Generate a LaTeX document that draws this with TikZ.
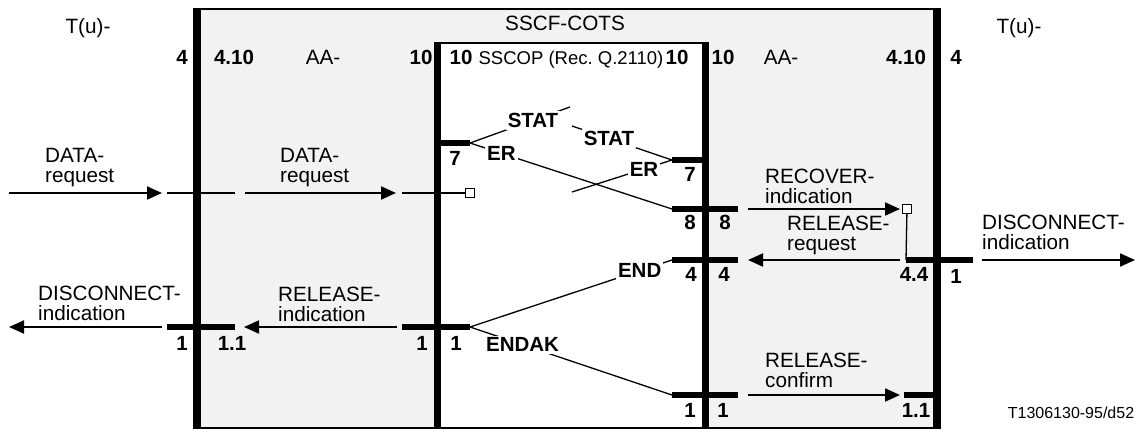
\documentclass[tikz,border=0pt]{standalone}
\usepackage{fontspec}
\setmainfont{Liberation Sans}
\usetikzlibrary{arrows.meta, positioning}

\tikzset{
  lbl/.style={font=\fontsize{20.7}{20.5}\selectfont, inner sep=0pt, align=left},
  num/.style={font=\fontsize{20.5}{20.5}\selectfont\bfseries, inner sep=0pt},
  msg/.style={font=\fontsize{20.5}{20.5}\selectfont\bfseries, inner sep=2pt, fill=white},
  obar/.style={line width=8pt},
  ibar/.style={line width=7pt},
  stub/.style={line width=6.5pt},
  prim/.style={line width=2pt, -{Triangle[length=15pt, width=13pt]}},
  sig/.style={line width=1.3pt},
  port/.style={draw, line width=1pt, fill=white, minimum size=9pt, inner sep=0pt},
}

\begin{document}
\begin{tikzpicture}[x=1pt, y=-1pt]
    \useasboundingbox (0,0) rectangle (1139,432);

    % SSCF-COTS frame and SSCOP box
    \fill[gray!10] (197,9) rectangle (937,428);
    \fill[white] (437,43) rectangle (705,428);
    \draw[line width=2pt] (197,9) -- (937,9);
    \draw[line width=2pt] (197,428) -- (937,428);
    \draw[line width=2.5pt] (437,43) -- (705,43);
    \draw[obar] (197,8) -- (197,429);
    \draw[obar] (937,8) -- (937,429);
    \draw[ibar] (437,42) -- (437,429);
    \draw[ibar] (705,42) -- (705,429);

    % Titles
    \node[lbl, anchor=base] (tuL) at (88,33) {T(u)-};
    \node[lbl, anchor=base] (tuR) at (1019,33) {T(u)-};
    \node[lbl, anchor=base] (cots) at (565,30) {SSCF-COTS};
    \node[lbl, anchor=base] (aaL) at (323,64) {AA-};
    \node[lbl, anchor=base] (aaR) at (781,64) {AA-};
    \node[lbl, anchor=base, font=\fontsize{18.5}{20}\selectfont] (sscop) at (571,64) {SSCOP (Rec.~Q.2110)};
    \node[lbl, anchor=base, font=\fontsize{16}{18}\selectfont] (fig) at (1071,418) {T1306130-95/d52};

    % Numbers along the top
    \foreach \x/\t [count=\i] in {182/4, 234/4.10, 421/10, 461/10, 677/10, 723/10, 906/4.10, 956/4}
        \node[num, anchor=base] (top\i) at (\x,64) {\t};

    % Stub ends and arrow ends
    \foreach \n/\x/\y in {p7L/470/143, p7R/672/160, p8/672/209, p4/672/260, p1R/672/395, p1L/470/327,
                          sA/570/107, sB/572/126, eB/572/192, p44/906/260,
                          d1/9/193, d2/162/193, d3/167/193, d4/235/193, d5/245/193, d6/396/193, d7/402/193,
                          r1/748/209, r2/900/209, rq1/900/260, rq2/748/260, dc1/982/260, dc2/1135/260,
                          ri1/397/327, ri2/244/327, dl1/162/327, dl2/9/327, rc1/748/395, rc2/900/395}
        \coordinate (\n) at (\x,\y);

    % SSCOP messages
    \draw[sig] (p7L) -- node[msg, pos=.63] (stat1) {STAT} (sA);
    \draw[sig] (sB) -- node[msg, pos=.37] (stat2) {STAT} (p7R);
    \draw[sig] (p7L) -- node[msg, pos=.155] (er1) {ER} (p8);
    \draw[sig] (p7R) -- node[msg, pos=.28] (er2) {ER} (eB);
    \draw[sig] (p1L) -- node[msg, pos=.84] (end) {END} (p4);
    \draw[sig] (p1L) -- node[msg, pos=.26] (endak) {ENDAK} (p1R);

    % Stubs
    \draw[stub] (437,143) -- (p7L);
    \draw[stub] (p7R) -- (705,160);
    \draw[stub] (p8) -- (738,209);
    \draw[stub] (p4) -- (738,260);
    \draw[stub] (p1R) -- (738,395);
    \draw[stub] (402,327) -- (p1L);
    \draw[stub] (167,327) -- (235,327);
    \draw[stub] (p44) -- (973,260);
    \draw[stub] (904,395) -- (937,395);

    % Primitives
    \node[port] (q1) at (470,193) {};
    \node[port] (q2) at (907,209) {};
    \draw[prim] (d1) -- (d2);
    \draw[prim, -] (d3) -- (d4);
    \draw[prim] (d5) -- (d6);
    \draw[prim, -] (d7) -- (q1);
    \draw[prim] (r1) -- (r2);
    \draw[sig] (q2) -- (p44);
    \draw[prim] (rq1) -- (rq2);
    \draw[prim] (dc1) -- (dc2);
    \draw[prim] (ri1) -- (ri2);
    \draw[prim] (dl1) -- (dl2);
    \draw[prim] (rc1) -- (rc2);

    % Primitive labels
    \node[lbl, anchor=south west] (dataL) at (45,187) {DATA-\\request};
    \node[lbl, anchor=south west] (dataM) at (280,187) {DATA-\\request};
    \node[lbl, anchor=south west] (recov) at (765,204) {RECOVER-\\indication};
    \node[lbl, anchor=south west] (relrq) at (787,255) {RELEASE-\\request};
    \node[lbl, anchor=south west] (discR) at (982,250) {DISCONNECT-\\indication};
    \node[lbl, anchor=south west] (relin) at (278,322) {RELEASE-\\indication};
    \node[lbl, anchor=south west] (discL) at (38,321) {DISCONNECT-\\indication};
    \node[lbl, anchor=south west] (relcf) at (765,388) {RELEASE-\\confirm};

    % Numbers at the stubs
    \foreach \x/\y/\t [count=\i] in {455/158/7, 690/174/7, 690/222/8, 725/222/8, 691/274/4, 724/274/4,
                                     914/274/4.4, 956/276/1, 422/343/1, 456/343/1, 182/343/1, 232/343/1.1,
                                     690/410/1, 723/410/1, 916/410/1.1}
        \node[num] (n\i) at (\x,\y) {\t};
\end{tikzpicture}
\end{document}
